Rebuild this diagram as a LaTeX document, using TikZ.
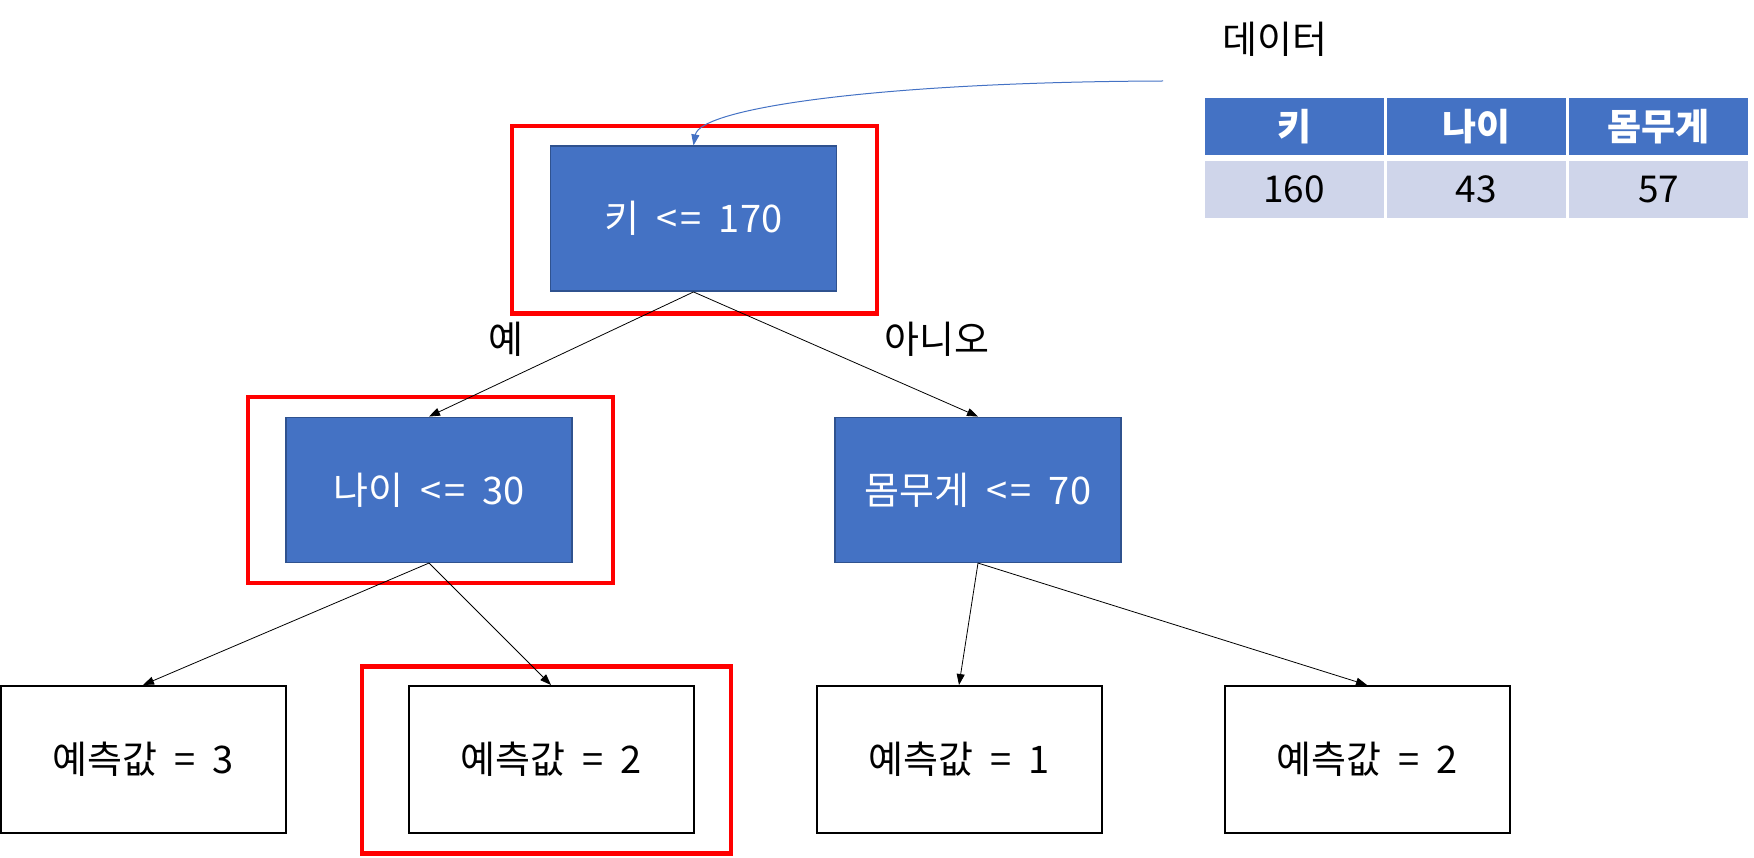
\documentclass[tikz,border=0pt]{standalone}
\usepackage{fontspec}
\setmainfont{Noto Sans CJK KR}
\usetikzlibrary{arrows.meta}
\definecolor{accent}{HTML}{4472C4}
\definecolor{accentdark}{HTML}{2F528F}
\definecolor{rowlight}{HTML}{CFD5EA}
\definecolor{hl}{HTML}{FF0000}
\newcommand\wsp{\hspace{17pt}}
\newcommand\lte{<\hspace{3pt}=}
\begin{document}
\begin{tikzpicture}[x=1pt,y=-1pt,
  txt/.style={font=\fontsize{38}{44}\selectfont},
  split/.style={txt, draw=accentdark, line width=1.5pt, fill=accent, text=white,
    minimum width=286pt, minimum height=145pt, inner sep=0pt},
  leaf/.style={txt, draw=black, line width=2pt, fill=white,
    minimum width=285pt, minimum height=147pt, inner sep=0pt},
  hlbox/.style={draw=hl, line width=4.5pt},
  edge/.style={-{Triangle[length=11pt,width=8pt]}, line width=0.8pt, black},
  datalink/.style={-{Triangle[length=11pt,width=8pt]}, line width=1pt, accent},
  headcell/.style={font=\fontsize{37}{42}\selectfont\bfseries, fill=accent, text=white,
    minimum width=179pt, minimum height=57pt, inner sep=0pt},
  bodycell/.style={font=\fontsize{37}{42}\selectfont, fill=rowlight, text=black,
    minimum width=179pt, minimum height=57pt, inner sep=0pt},
  lbl/.style={txt, inner sep=0pt}]
\useasboundingbox (0,0) rectangle (1754,858);

% nodes
\node[split] (top) at (693.5,218.7) {키\wsp\lte\wsp170};
\node[split] (age) at (429,489.8) {나이\wsp\lte\wsp30};
\node[split] (wt) at (978,489.8) {몸무게\wsp\lte\wsp70};
\node[leaf] (l1) at (143,759.5) {예측값\wsp=\wsp3};
\node[leaf] (l2) at (551,759.5) {예측값\wsp=\wsp2};
\node[leaf] (l3) at (959,759.5) {예측값\wsp=\wsp1};
\node[leaf] (l4) at (1367,759.5) {예측값\wsp=\wsp2};

% highlight frames
\draw[hlbox] (512,126) rectangle (877,313.5);
\draw[hlbox] (248,397) rectangle (613,583);
\draw[hlbox] (362,666.5) rectangle (731,853.5);

% edges
\draw[edge] (top.south) -- (age.north);
\draw[edge] (top.south) -- (wt.north);
\draw[edge] (age.south) -- (l1.north);
\draw[edge] (age.south) -- (l2.north);
\draw[edge] (wt.south) -- (l3.north);
\draw[edge] (wt.south) -- (l4.north);

\node[lbl] (yes) at (505.6,339) {예};
\node[lbl] (no) at (937,339) {아니오};

% data table
\node[lbl] (dtitle) at (1275,39) {데이터};
\node[headcell] (h1) at (1294.2,127) {키};
\node[headcell] (h2) at (1476.5,127) {나이};
\node[headcell] (h3) at (1658.9,127) {몸무게};
\node[bodycell] (d1) at (1294.2,189.5) {160};
\node[bodycell] (d2) at (1476.5,189.5) {43};
\node[bodycell] (d3) at (1658.9,189.5) {57};

\coordinate (src) at (1163,81);
\draw[datalink] (src) .. controls (880,82) and (700,108) .. (top.north);
\end{tikzpicture}
\end{document}
